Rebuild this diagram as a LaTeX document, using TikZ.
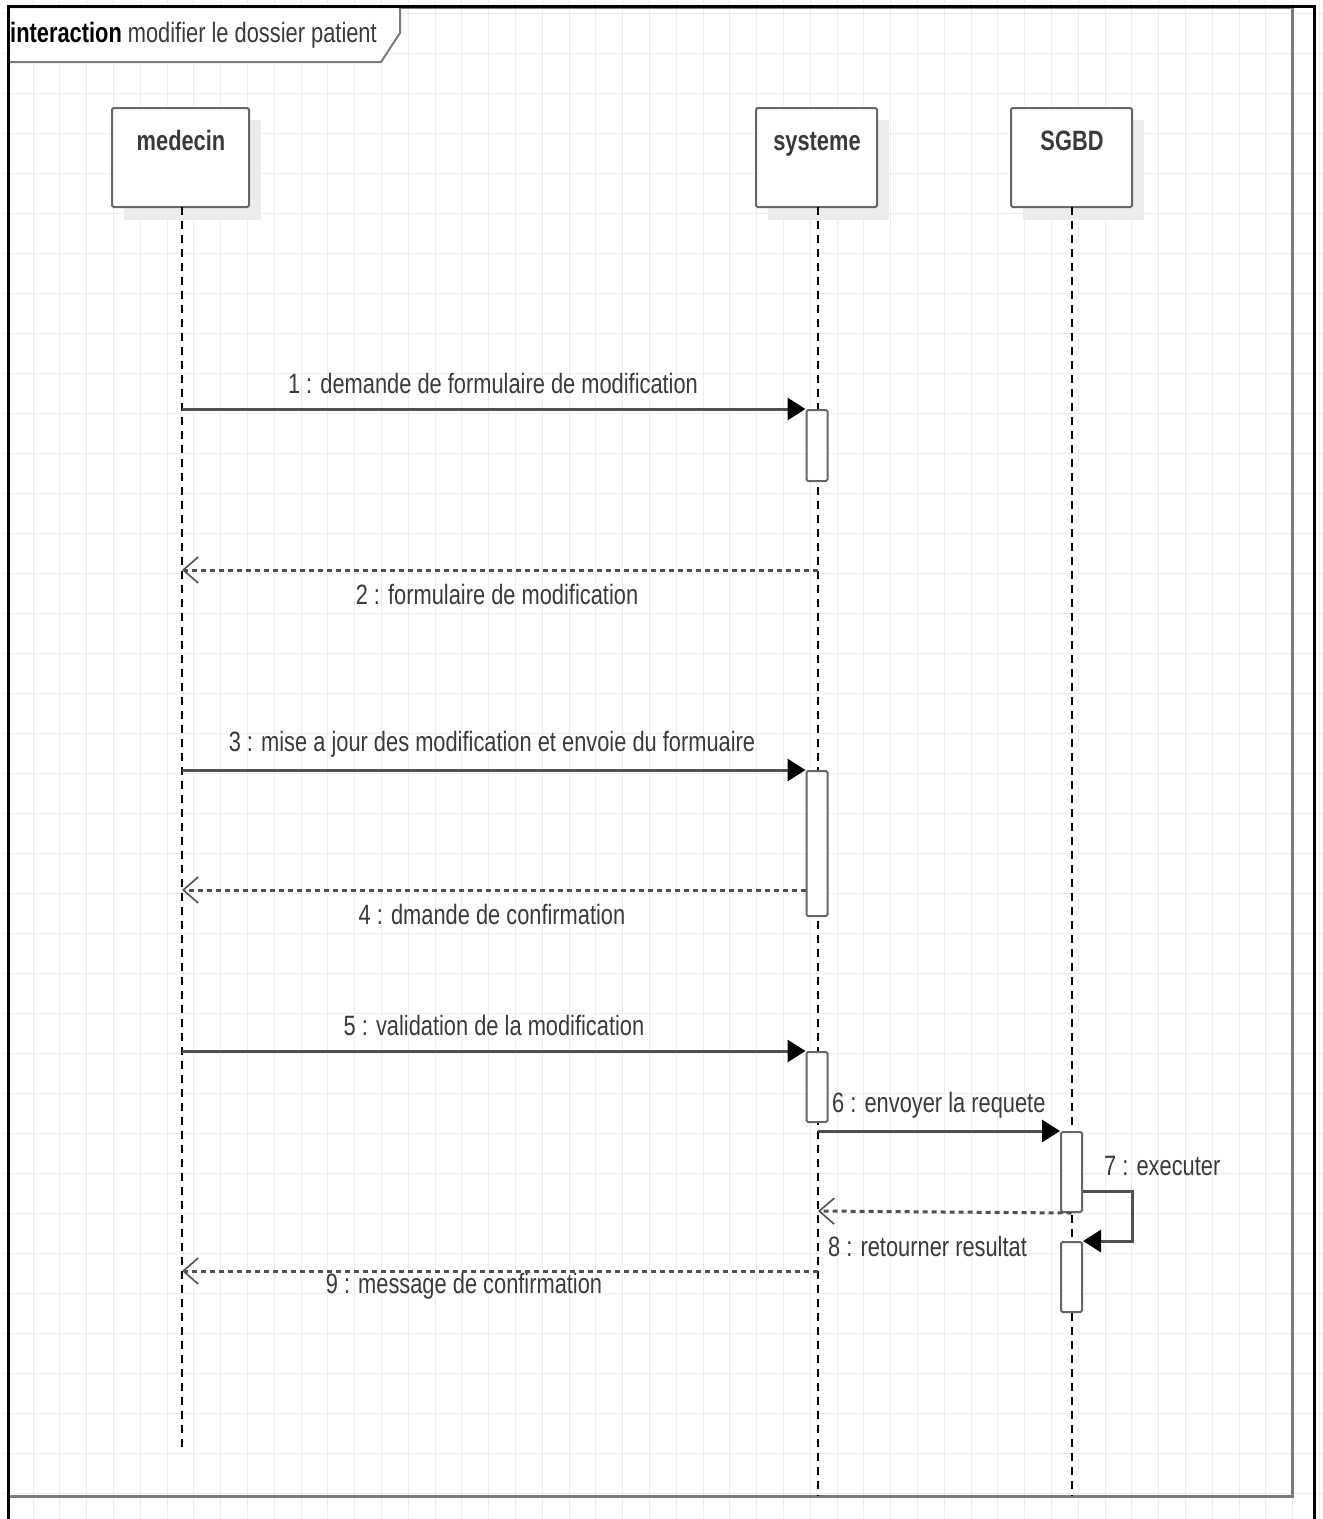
\documentclass[tikz,border=0pt]{standalone}
\usepackage{fontspec}
\setmainfont[FakeStretch=0.78]{Liberation Sans}
\usetikzlibrary{arrows.meta}
\definecolor{gridc}{HTML}{EEEEEE}
\definecolor{framec}{HTML}{7A7A7A}
\definecolor{boxc}{HTML}{666666}
\definecolor{msgc}{HTML}{505050}
\definecolor{txtc}{HTML}{3A3A3A}
\definecolor{shc}{HTML}{ECECEC}
\tikzset{
  head/.style={draw=boxc, line width=2pt, fill=white, rounded corners=1.5pt, minimum width=137pt, minimum height=99pt, inner sep=0pt},
  headsmall/.style={head, minimum width=121pt},
  headtxt/.style={font=\fontsize{28}{32}\selectfont\bfseries, text=txtc, inner sep=0pt, anchor=base},
  life/.style={black, line width=1.4pt, dash pattern=on 8pt off 6pt},
  act/.style={draw=boxc, line width=2pt, fill=white, rounded corners=1.5pt, minimum width=21pt, inner sep=0pt, anchor=north},
  syncmsg/.style={draw=msgc, line width=3pt, -{Triangle[length=18pt,width=22pt,fill=black,color=black]}},
  retmsg/.style={draw=msgc, line width=3pt, dash pattern=on 5pt off 4pt, -{Straight Barb[length=15pt,width=26pt,line width=1.6pt,color=msgc]}},
  msgtxt/.style={font=\fontsize{28}{32}\selectfont, text=txtc, inner sep=0pt},
}
\begin{document}
\begin{tikzpicture}[x=1pt,y=-1pt]
\useasboundingbox (0,0) rectangle (1323,1519);
\fill[white] (0,0) rectangle (1323,1519);
% grid
\foreach \i in {0,...,48} \draw[gridc, line width=1pt] ({33+26.8*\i},0) -- ++(0,1519);
\foreach \j in {0,...,37} \draw[gridc, line width=1pt] (0,{13+40*\j}) -- ++(1323,0);
% frame
\draw[framec, line width=3pt] (8,7) -- (1292,7) -- (1292,1496) -- (8,1496);
\filldraw[fill=white, draw=framec, line width=2pt] (8,7) -- (8,62) -- (381,62) -- (400,33) -- (400,7) -- cycle;
\node[msgtxt, anchor=west] (title) at (10,35) {\textcolor{black}{\textbf{interaction}} modifier le dossier patient};
% screenshot border
\draw[black, line width=3pt] (8,1519) -- (8,6) -- (1314,6) -- (1314,1519);
% lifeline heads
\fill[shc] (124,120) rectangle (261,220);
\fill[shc] (768,120) rectangle (889,220);
\fill[shc] (1023,120) rectangle (1144,220);
\node[head] (med) at (180.5,157.5) {};
\node[headsmall] (sys) at (816.5,157.5) {};
\node[headsmall] (db) at (1071.5,157.5) {};
\node[headtxt] (medt) at (181,150) {medecin};
\node[headtxt] (syst) at (817,150) {systeme};
\node[headtxt] (dbt) at (1072,150) {SGBD};
% lifelines
\coordinate (medend) at (182,1450);
\coordinate (sysend) at (818,1496);
\coordinate (dbend) at (1072,1496);
\draw[life] (182,207) -- (medend);
\draw[life] (818,207) -- (sysend);
\draw[life] (1072,207) -- (dbend);
% activations
\node[act, minimum height=71pt] (a1) at (817,409) {};
\node[act, minimum height=145pt] (a2) at (817,770) {};
\node[act, minimum height=70pt] (a3) at (817,1051) {};
\node[act, minimum height=80pt] (b1) at (1071.5,1131) {};
\node[act, minimum height=70pt] (b2) at (1071.5,1241) {};
% message endpoints
\coordinate (m1) at (182,409);
\coordinate (m2s) at (818,570); \coordinate (m2e) at (182,570);
\coordinate (m3) at (182,770);
\coordinate (m4e) at (182,890);
\coordinate (m5) at (182,1051);
\coordinate (m6) at (818,1131);
\coordinate (m8e) at (818,1211);
\coordinate (m9s) at (818,1271); \coordinate (m9e) at (182,1271);
% messages
\draw[syncmsg] (m1) -- (a1.north west);
\node[msgtxt] (l1) at (493,383) {1 : demande de formulaire de modification};
\draw[retmsg] (m2s) -- (m2e);
\node[msgtxt] (l2) at (497,594) {2 : formulaire de modification};
\draw[syncmsg] (m3) -- (a2.north west);
\node[msgtxt] (l3) at (492,744) {3 : mise a jour des modification et envoie du formuaire};
\draw[retmsg] (a2.west |- m4e) -- (m4e);
\node[msgtxt] (l4) at (492,914) {4 : dmande de confirmation};
\draw[syncmsg] (m5) -- (a3.north west);
\node[msgtxt] (l5) at (494,1025) {5 : validation de la modification};
\draw[syncmsg] (m6) -- (b1.north west);
\node[msgtxt, anchor=west] (l6) at (832,1105) {6 : envoyer la requete};
\draw[syncmsg] (b1.east |- 0,1191) -- (1132,1191) -- (1132,1241) -- (b2.north east);
\node[msgtxt, anchor=west] (l7) at (1104,1166) {7 : executer};
\draw[retmsg] (b1.south) -- (m8e);
\node[msgtxt, anchor=west] (l8) at (828,1246) {8 : retourner resultat};
\draw[retmsg] (m9s) -- (m9e);
\node[msgtxt] (l9) at (464,1286) {9 : message de confirmation};
\end{tikzpicture}
\end{document}
